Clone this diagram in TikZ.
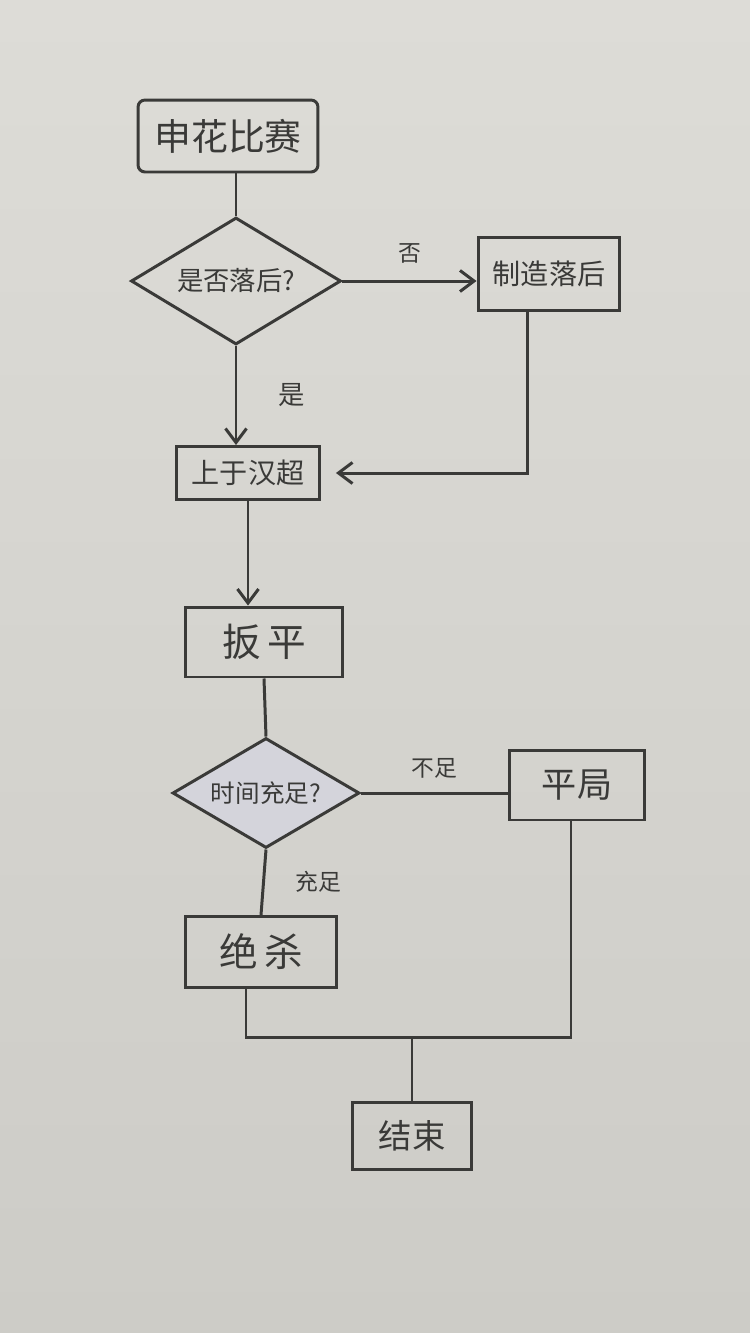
\documentclass[tikz,border=0pt]{standalone}
\usepackage{fontspec}
\newfontfamily\cjk{Noto Sans CJK SC}
\usetikzlibrary{shapes.geometric,arrows.meta}
\definecolor{paper}{RGB}{221,220,215}
\definecolor{paperdark}{RGB}{205,204,199}
\definecolor{pencil}{RGB}{58,58,56}
\definecolor{smudge}{RGB}{212,212,219}

\begin{document}
\begin{tikzpicture}[x=0.02cm,y=-0.02cm,
    line width=1.7pt,draw=pencil,>={Straight Barb[length=8pt,width=12pt]},
    stepbox/.style={rectangle,draw,text=pencil,inner sep=0pt,font=\cjk},
    askbox/.style={diamond,draw,text=pencil,inner sep=0pt,font=\cjk},
    tag/.style={text=pencil,font=\cjk\fontsize{13}{15}\selectfont}]
          \shade[top color=paper,bottom color=paperdark] (0,0) rectangle (750,1333);
          % top part
          \node (start) at (228,136) [stepbox,rounded corners=4pt,minimum width=3.6cm,minimum height=1.44cm,
          font=\cjk\fontsize{21}{24}\selectfont] {申花比赛};
          \node (behind) at (236,281) [askbox,minimum width=4.2cm,minimum height=2.54cm,aspect=1.65,
          font=\cjk\fontsize{15}{18}\selectfont] {是否落后?};
          \node (make) at (549,274) [stepbox,minimum width=2.84cm,minimum height=1.46cm,
          font=\cjk\fontsize{16}{18}\selectfont] {制造落后};
          \node (lead) at (248,473) [stepbox,minimum width=2.86cm,minimum height=1.06cm,
          font=\cjk\fontsize{16}{18}\selectfont] {上于汉超};
          % bottom part
          \node (level) at (264,642) [stepbox,minimum width=3.16cm,minimum height=1.4cm,
          font=\cjk\fontsize{22}{24}\selectfont] {扳\,平};
          \node (time) at (266,793) [askbox,fill=smudge,minimum width=3.74cm,minimum height=2.2cm,aspect=1.7,
          font=\cjk\fontsize{14}{16}\selectfont] {时间充足?};
          \node (draw) at (577,785) [stepbox,minimum width=2.7cm,minimum height=1.4cm,
          font=\cjk\fontsize{20}{22}\selectfont] {平局};
          \node (win) at (261,952) [stepbox,minimum width=3.04cm,minimum height=1.42cm,
          font=\cjk\fontsize{22}{24}\selectfont] {绝\,杀};
          \node (end) at (412,1136) [stepbox,minimum width=2.4cm,minimum height=1.34cm,
          font=\cjk\fontsize{19}{22}\selectfont] {结束};
          \coordinate (join) at (412,1037);
          % connectors
          \draw (behind.north |- start.south) -- (behind.north);
          \draw[->] (behind.east) -- (behind.east -| make.west)
          node[midway,above=6pt,tag] {否};
          \draw[->] (behind.south) -- (behind.south |- lead.north)
          node[midway,right=20pt,tag,font=\cjk\fontsize{15}{17}\selectfont] {是};
          \draw[->] ([xshift=-0.44cm]make.south) |- ([xshift=0.3cm]lead.east);
          \draw[->] (lead.south) -- (lead.south |- level.north);
          \draw (level.south) -- (time.north);
          \draw (time.east) -- (time.east -| draw.west)
          node[midway,above=4pt,tag] {不足};
          \draw (time.south) -- (win.north)
          node[midway,right=14pt,tag] {充足};
          \draw ([xshift=-0.3cm]win.south) |- (join) -| ([xshift=-0.12cm]draw.south);
          \draw (join) -- (end.north);
        \end{tikzpicture}
\end{document}
